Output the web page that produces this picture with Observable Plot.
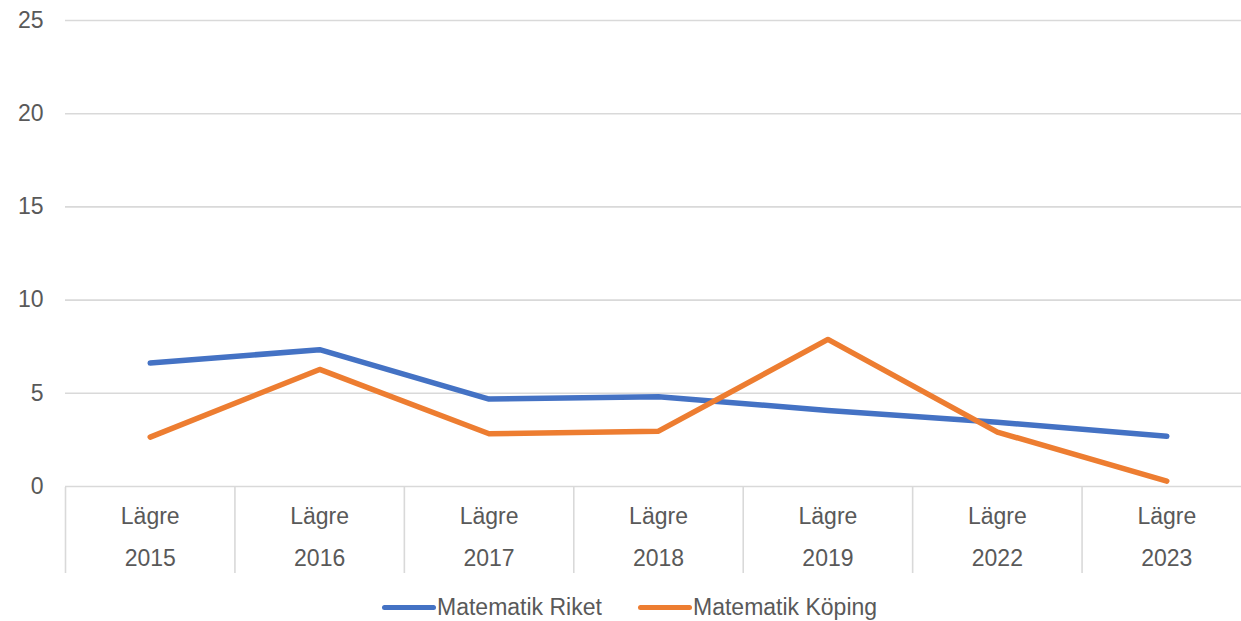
<!DOCTYPE html>
<html><head><meta charset="utf-8">
<script src="https://cdn.jsdelivr.net/npm/d3@7"></script>
<script src="https://cdn.jsdelivr.net/npm/@observablehq/plot@0.6"></script>
<style>
html,body{margin:0;padding:0;background:#fff;overflow:hidden;}
body{font-family:"Liberation Sans",Arial,sans-serif;width:1241px;height:621px;}
svg{display:block;}
#legend{position:relative;height:48px;}
.item{position:absolute;top:22px;display:flex;align-items:center;font-size:23px;color:#595959;line-height:24px;}
.swatch{width:54px;height:5px;border-radius:3px;margin-right:1px;}
</style>
</head><body>
<div id="chart"></div>
<div id="legend"></div>
<script>
const years = ["2015","2016","2017","2018","2019","2022","2023"];
const levels = ["Lägre","Lägre","Lägre","Lägre","Lägre","Lägre","Lägre"];
const riket = [6.62, 7.34, 4.69, 4.82, 4.08, 3.45, 2.70];
const koping = [2.65, 6.28, 2.83, 2.97, 7.89, 2.92, 0.29];
const yTicks = [0, 5, 10, 15, 20, 25];
const seriesNames = ["Matematik Riket", "Matematik Köping"];
const seriesColors = ["#4472C4", "#ED7D31"];

const rows = [];
[riket, koping].forEach((vals, s) => vals.forEach((v, i) => rows.push({idx: i, year: years[i], series: seriesNames[s], value: v})));
const cats = years.map((y, i) => ({idx: i, year: y, level: levels[i]}));
const bounds = d3.range(years.length + 1);

const xScale = {domain: [0, years.length], range: [65, 1251], axis: null};
const font = {fontFamily: "'Liberation Sans', Arial, sans-serif", background: "transparent", overflow: "visible"};

const main = Plot.plot({
  width: 1241, height: 487,
  marginTop: 20, marginBottom: 1, marginLeft: 65, marginRight: 0,
  style: font,
  x: xScale,
  y: {domain: [0, 25], axis: null},
  color: {domain: seriesNames, range: seriesColors},
  marks: [
    Plot.ruleY(yTicks, {y: d => d, x1: 0, x2: years.length, stroke: "#d9d9d9", strokeWidth: 1.6}),
    Plot.text(yTicks, {x: 0, y: d => d, text: d => String(d), textAnchor: "end", dx: -22, fontSize: 23, fill: "#595959"}),
    Plot.line(rows, {x: d => d.idx + 0.5, y: "value", z: "series", stroke: "series", strokeWidth: 5.5, strokeLinecap: "round", strokeLinejoin: "round"})
  ]
});

const axis = Plot.plot({
  width: 1241, height: 86,
  marginTop: 0, marginBottom: 0, marginLeft: 65, marginRight: 0,
  style: font,
  x: xScale,
  marks: [
    Plot.ruleX(bounds, {x: d => d, stroke: "#d9d9d9", strokeWidth: 1.6}),
    Plot.text(cats, {x: d => d.idx + 0.5, text: "level", frameAnchor: "top", dy: 20, fontSize: 23, fill: "#595959"}),
    Plot.text(cats, {x: d => d.idx + 0.5, text: "year", frameAnchor: "top", dy: 62, fontSize: 23, fill: "#595959"})
  ]
});

document.getElementById("chart").append(main, axis);

const legend = document.getElementById("legend");
const lefts = [382, 638];
seriesNames.forEach((name, s) => {
  const it = document.createElement("div");
  it.className = "item";
  it.style.left = lefts[s] + "px";
  const sw = document.createElement("span");
  sw.className = "swatch";
  sw.style.background = seriesColors[s];
  const tx = document.createElement("span");
  tx.textContent = name;
  it.append(sw, tx);
  legend.append(it);
});
</script>
</body></html>
